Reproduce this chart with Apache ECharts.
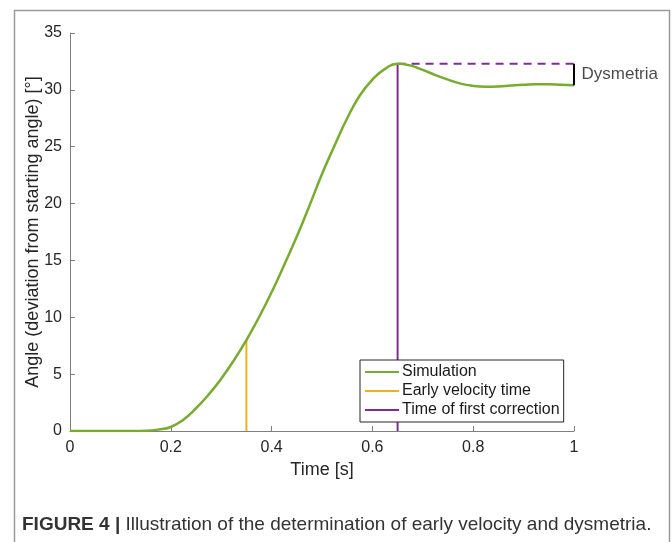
<!DOCTYPE html>
<html>
<head>
<meta charset="utf-8">
<script src="https://cdn.jsdelivr.net/npm/echarts@6/dist/echarts.min.js"></script>
<style>
html,body{margin:0;padding:0;background:#fff;}
#c{width:672px;height:542px;}
</style>
</head>
<body>
<div id="c"></div>
<script>
// ---- data ----
const timeS = [0,0.025,0.05,0.075,0.1,0.125,0.15,0.175,0.2,0.225,0.25,0.275,0.3,0.325,0.35,0.375,0.4,0.425,0.45,0.475,0.5,0.525,0.55,0.575,0.6,0.625,0.65,0.675,0.7,0.725,0.75,0.775,0.8,0.825,0.85,0.875,0.9,0.925,0.95,0.975,1.0];
const angleDeg = [0,0,0,0,0,0,0.02,0.12,0.35,1.0,2.0,3.2,4.6,6.2,8.0,10.0,12.2,14.6,17.1,19.8,22.6,25.1,27.5,29.5,30.9,31.85,32.3,32.15,31.75,31.3,30.9,30.55,30.35,30.28,30.3,30.38,30.45,30.5,30.5,30.45,30.4];
const earlyVelTime = 0.35;
const earlyVelAngle = 8.0;
const firstCorrTime = 0.65;
const peakAngle = 32.3;
const endTime = 1.0;
const endAngle = 30.4;
const xTicks = [0,0.2,0.4,0.6,0.8,1];
const yTicks = [0,5,10,15,20,25,30,35];
const legendNames = ['Simulation','Early velocity time','Time of first correction'];
const colors = {sim:'#77AC30', early:'#EDB120', corr:'#7E2F8E'};

const FONT = '"Liberation Sans", Arial, Helvetica, sans-serif';
const chart = echarts.init(document.getElementById('c'), null, {renderer:'canvas'});

const simData = timeS.map((t,i)=>[t, angleDeg[i]]);
const axisCol = '#7f7f7f';

chart.setOption({
  backgroundColor:'#fff',
  animation:false,
  textStyle:{fontFamily:FONT},
  grid:{left:70, right:98, top:33, bottom:111, containLabel:false},
  xAxis:{
    type:'value', min:0, max:1, interval:0.2,
    name:'Time [s]', nameLocation:'middle', nameGap:30, nameMoveOverlap:false,
    nameTextStyle:{fontSize:18, color:'#262626', fontFamily:FONT},
    axisLine:{show:true, onZero:false, lineStyle:{color:axisCol, width:1}},
    axisTick:{show:true, inside:true, length:5, lineStyle:{color:axisCol}},
    axisLabel:{fontSize:16, color:'#262626', margin:9, fontFamily:FONT,
      formatter:v=>{ const m = xTicks.find(x=>Math.abs(x-v)<1e-9); return m===undefined?'':String(m); }},
    splitLine:{show:false}
  },
  yAxis:{
    type:'value', min:0, max:35, interval:5,
    name:'Angle (deviation from starting angle) [°]', nameLocation:'middle', nameGap:28, nameRotate:90, nameMoveOverlap:false,
    nameTextStyle:{fontSize:18, color:'#262626', fontFamily:FONT},
    axisLine:{show:true, onZero:false, lineStyle:{color:axisCol, width:1}},
    axisTick:{show:true, inside:true, length:5, lineStyle:{color:axisCol}},
    axisLabel:{fontSize:16, color:'#262626', margin:8, fontFamily:FONT,
      formatter:v=>{ const m = yTicks.find(x=>Math.abs(x-v)<1e-9); return m===undefined?'':String(m); }},
    splitLine:{show:false}
  },
  legend:{
    data:legendNames,
    orient:'vertical',
    left:360, top:360,
    backgroundColor:'#fff',
    borderColor:'#262626', borderWidth:1, borderRadius:0,
    padding:[4,4,4,5],
    itemGap:3,
    itemWidth:34, itemHeight:2,
    icon:'rect',
    textStyle:{fontSize:16, color:'#1a1a1a', fontFamily:FONT, padding:[0,0,0,-2]}
  },
  series:[
    {
      name:'Time of first correction', type:'line', data:[[firstCorrTime,0],[firstCorrTime,peakAngle]],
      showSymbol:false, symbol:'none', lineStyle:{color:colors.corr, width:2}, itemStyle:{color:colors.corr}, z:3
    },
    {
      name:'Correction level', type:'line', data:[[firstCorrTime,peakAngle],[endTime,peakAngle]],
      showSymbol:false, symbol:'none', lineStyle:{color:colors.corr, width:2, type:[8,6]}, itemStyle:{color:colors.corr}, z:3
    },
    {
      name:'Early velocity time', type:'line', data:[[earlyVelTime,0],[earlyVelTime,earlyVelAngle]],
      showSymbol:false, symbol:'none', lineStyle:{color:colors.early, width:2}, itemStyle:{color:colors.early}, z:3
    },
    {
      name:'Simulation', type:'line', data:simData, smooth:0.5,
      showSymbol:false, symbol:'none', lineStyle:{color:colors.sim, width:2.5}, itemStyle:{color:colors.sim}, z:4
    },
    {
      name:'Dysmetria bracket', type:'line', data:[[endTime,endAngle],[endTime,peakAngle]],
      showSymbol:false, symbol:'none', lineStyle:{color:'#000', width:2}, itemStyle:{color:'#000'}, z:5
    },
    {
      name:'Dysmetria label', type:'scatter', data:[[endTime,(endAngle+peakAngle)/2]],
      symbolSize:1, itemStyle:{color:'rgba(0,0,0,0)'},
      label:{show:true, position:'right', distance:7, formatter:'Dysmetria', fontSize:17, color:'#1a1a1a', fontFamily:FONT},
      z:5, silent:true
    }
  ],
  graphic:[
    {type:'rect', left:12, top:8, shape:{width:655, height:560},
      style:{fill:'none', stroke:'#9a9a9a', lineWidth:1.5}, silent:true, z:-1},
    {type:'text', left:22, top:515,
      style:{
        text:'{b|FIGURE 4 |} Illustration of the determination of early velocity and dysmetria.',
        fontSize:19, fill:'#333', fontFamily:FONT,
        rich:{b:{fontWeight:'bold', fontSize:19, fill:'#333', fontFamily:FONT}}
      }}
  ]
});
</script>
</body>
</html>
